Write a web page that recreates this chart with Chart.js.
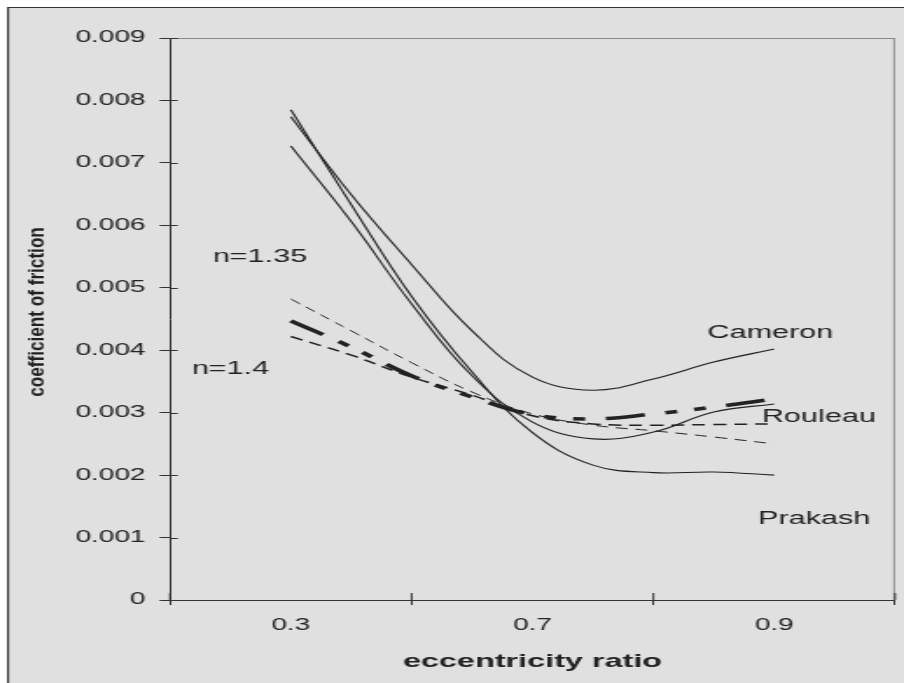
<!DOCTYPE html>
<html><head><meta charset="utf-8">
<script src="https://cdn.jsdelivr.net/npm/chart.js@4/dist/chart.umd.min.js"></script>
<style>
html,body{margin:0;padding:0;background:#fff;}
#wrap{position:relative;width:904px;height:683px;overflow:hidden;background:#fff;}
#stretch{position:absolute;left:0;top:0;transform-origin:0 0;}
</style></head><body>
<div id="wrap"><div id="stretch"><canvas id="c"></canvas></div></div>
<script>
// ---- data ----
const categories = ['0.3', '0.7', '0.9'];
const xPos     = [0, 0.25, 0.5, 0.75, 1, 1.25, 1.5, 1.75, 2];
const cameron  = [0.00774, 0.00649, 0.00537, 0.00431, 0.00357, 0.00336, 0.00354, 0.00381, 0.00402];
const rouleau  = [0.00727, 0.00606, 0.00474, 0.00359, 0.00285, 0.00258, 0.00269, 0.00301, 0.00314];
const prakash  = [0.00785, 0.00633, 0.00486, 0.00365, 0.00268, 0.00216, 0.00204, 0.00205, 0.00200];
const n135     = [0.00482, 0.00431, 0.00380, 0.00333, 0.00298, 0.00280, 0.00271, 0.00261, 0.00250];
const present  = [0.00447, 0.00405, 0.00359, 0.00325, 0.00297, 0.00290, 0.00298, 0.00309, 0.00322];
const n14      = [0.00422, 0.00392, 0.00357, 0.00328, 0.00295, 0.00282, 0.00280, 0.00281, 0.00282];
const yTickLabels = ['0', '0.001', '0.002', '0.003', '0.004', '0.005', '0.006', '0.007', '0.008', '0.009'];
const xTitle = 'eccentricity ratio';
const yTitle = 'coefficient of friction';
const notes = [
  {text: 'n=1.35',  x: -0.128, y: 0.00549},
  {text: 'n=1.4',   x: -0.25,  y: 0.00370},
  {text: 'Cameron', x: 1.984,  y: 0.00428},
  {text: 'Rouleau', x: 2.185,  y: 0.00293},
  {text: 'Prakash', x: 2.166,  y: 0.00130}
];

// ---- the original picture is horizontally stretched ----
const W = 904, H = 683, SX = 1.75;
const CW = Math.round(W / SX);
const sx = W / CW;
const canvas = document.getElementById('c');
canvas.width = CW; canvas.height = H;
canvas.style.width = CW + 'px'; canvas.style.height = H + 'px';
document.getElementById('stretch').style.transform = 'scaleX(' + sx + ')';

const FONT = "'Liberation Sans', Arial, Helvetica, sans-serif";
const INK = '#222';
const BG = '#e0e0e0';
const plotLeft = 170 / sx, plotRight = 895 / sx;

const pts = arr => xPos.map((x, i) => ({x: x, y: arr[i]}));
const solid = (label, arr) => ({label, data: pts(arr), xAxisID: 'xd', borderColor: INK, borderWidth: 1.1, pointRadius: 0, tension: 0.4, fill: false});

const backdrop = {
  id: 'backdrop',
  beforeDraw(chart) {
    const ctx = chart.ctx;
    ctx.save();
    ctx.fillStyle = BG;
    ctx.fillRect(7 / sx, 7, CW, H);
    ctx.fillStyle = '#333';
    ctx.fillRect(7 / sx, 7, 2 / sx, H);
    ctx.fillRect(7 / sx, 7, CW, 1);
    ctx.restore();
  }
};

const decor = {
  id: 'decor',
  afterDraw(chart) {
    const {ctx, chartArea: ca, scales} = chart;
    const y = scales.y, xd = scales.xd;
    ctx.save();
    ctx.strokeStyle = '#8a8a8a'; ctx.lineWidth = 1;
    ctx.beginPath();
    ctx.moveTo(ca.left, Math.round(ca.top) + 0.5); ctx.lineTo(ca.right, Math.round(ca.top) + 0.5);
    ctx.moveTo(ca.right - 0.5, ca.top); ctx.lineTo(ca.right - 0.5, ca.bottom);
    ctx.stroke();
    ctx.strokeStyle = '#333';
    ctx.beginPath();
    y.ticks.forEach(t => { const p = Math.round(y.getPixelForValue(t.value)) + 0.5; ctx.moveTo(ca.left, p); ctx.lineTo(ca.left + 4.5, p); });
    for (let i = -0.5; i <= categories.length - 0.5; i++) { const p = xd.getPixelForValue(i); ctx.moveTo(p, ca.bottom); ctx.lineTo(p, ca.bottom - 7); }
    ctx.stroke();
    // y axis title (condensed and heavy in the original)
    ctx.fillStyle = INK;
    ctx.font = 'bold 13px ' + FONT;
    ctx.textAlign = 'center'; ctx.textBaseline = 'middle';
    ctx.translate(37 / sx, 312);
    ctx.rotate(-Math.PI / 2);
    ctx.scale(1.32, 1);
    ctx.fillText(yTitle, 0, 0);
    ctx.setTransform(1, 0, 0, 1, 0, 0);
    ctx.font = '17.5px ' + FONT;
    notes.forEach(n => ctx.fillText(n.text, xd.getPixelForValue(n.x), y.getPixelForValue(n.y)));
    ctx.restore();
  }
};

new Chart(canvas, {
  type: 'line',
  data: {
    labels: categories,
    datasets: [
      solid('Cameron', cameron),
      solid('Rouleau', rouleau),
      solid('Prakash', prakash),
      {label: 'n=1.35', data: pts(n135), xAxisID: 'xd', borderColor: INK, borderWidth: 1, borderDash: [6.9, 4.6], pointRadius: 0, tension: 0.4, fill: false},
      {label: 'present', data: pts(present), xAxisID: 'xd', borderColor: INK, borderWidth: 3.5, borderDash: [23, 11.5, 7, 10, 7, 11.5], pointRadius: 0, tension: 0.4, fill: false},
      {label: 'n=1.4', data: pts(n14), xAxisID: 'xd', borderColor: INK, borderWidth: 1.5, borderDash: [7.4, 4.6], pointRadius: 0, tension: 0.4, fill: false}
    ]
  },
  options: {
    responsive: false, animation: false, devicePixelRatio: 1,
    layout: {padding: {left: 0, right: CW - plotRight, top: 38, bottom: 0}},
    plugins: {legend: {display: false}, tooltip: {enabled: false}},
    scales: {
      x: {
        type: 'category', offset: true,
        grid: {offset: true, drawOnChartArea: false, tickLength: 5, color: '#333'},
        border: {color: '#333', width: 1},
        ticks: {color: INK, font: {family: FONT, size: 16}, padding: 11, maxRotation: 0, autoSkip: false},
        title: {display: true, text: xTitle, color: INK, font: {family: FONT, size: 18.5, weight: 'bold'}, padding: {top: 3, bottom: 10}},
        afterFit(s) { s.height = H - 600; }
      },
      xd: {type: 'linear', display: false, min: -0.5, max: categories.length - 0.5},
      y: {
        min: 0, max: 0.009,
        grid: {drawOnChartArea: false, tickLength: 6, color: '#333'},
        border: {color: '#333', width: 1},
        ticks: {stepSize: 0.001, autoSkip: false, color: INK, font: {family: FONT, size: 16}, padding: 8,
                callback: (v, i) => yTickLabels[i]},
        afterFit(s) { s.width = plotLeft; }
      }
    }
  },
  plugins: [backdrop, decor]
});
</script>
</body></html>
